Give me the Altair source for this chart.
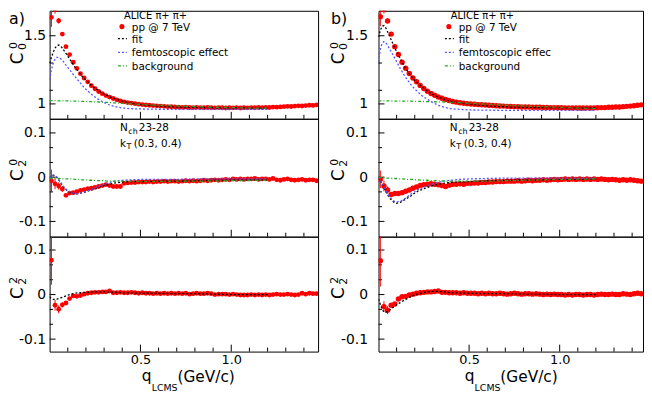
import altair as alt
import pandas as pd

# ---------------- data ----------------
q_bins = [0.01, 0.03, 0.05, 0.07, 0.09, 0.11, 0.13, 0.15, 0.17, 0.19,
          0.21, 0.23, 0.25, 0.27, 0.29, 0.31, 0.33, 0.35, 0.37, 0.39,
          0.41, 0.43, 0.45, 0.47, 0.49, 0.51, 0.53, 0.55, 0.57, 0.59,
          0.61, 0.63, 0.65, 0.67, 0.69, 0.71, 0.73, 0.75, 0.77, 0.79,
          0.81, 0.83, 0.85, 0.87, 0.89, 0.91, 0.93, 0.95, 0.97, 0.99,
          1.01, 1.03, 1.05, 1.07, 1.09, 1.11, 1.13, 1.15, 1.17, 1.19,
          1.21, 1.23, 1.25, 1.27, 1.29, 1.31, 1.33, 1.35, 1.37, 1.39,
          1.41, 1.43, 1.45, 1.47]

# panel a) data points
a_C00 = [1.635, 1.692, 1.610, 1.512, 1.420, 1.362, 1.306, 1.261, 1.222, 1.190,
         1.162, 1.134, 1.111, 1.091, 1.075, 1.061, 1.050, 1.040, 1.030, 1.022,
         1.015, 1.010, 1.006, 1.002, 0.998, 0.995, 0.992, 0.990, 0.988, 0.986,
         0.984, 0.982, 0.980, 0.979, 0.978, 0.976, 0.975, 0.976, 0.974, 0.973,
         0.975, 0.973, 0.972, 0.974, 0.972, 0.971, 0.973, 0.972, 0.970, 0.972,
         0.971, 0.973, 0.970, 0.972, 0.971, 0.973, 0.972, 0.974, 0.973, 0.975,
         0.974, 0.977, 0.976, 0.978, 0.980, 0.982, 0.981, 0.984, 0.986, 0.985,
         0.988, 0.990, 0.989, 0.993]
a_C00_err = [0.07, 0.03, 0.02]

a_C20 = [-0.008, -0.015, -0.020, -0.027, -0.041, -0.036, -0.035, -0.033, -0.030, -0.028,
         -0.026, -0.025, -0.023, -0.021, -0.019, -0.017, -0.019, -0.021, -0.021, -0.021,
         -0.014, -0.013, -0.012, -0.012, -0.011, -0.011, -0.011, -0.010, -0.011, -0.010,
         -0.010, -0.009, -0.010, -0.009, -0.009, -0.010, -0.009, -0.008, -0.009, -0.008,
         -0.009, -0.008, -0.007, -0.008, -0.007, -0.006, -0.007, -0.006, -0.005, -0.006,
         -0.004, -0.005, -0.004, -0.005, -0.004, -0.004, -0.003, -0.005, -0.004, -0.004,
         -0.005, -0.003, -0.006, -0.007, -0.005, -0.004, -0.006, -0.007, -0.006, -0.005,
         -0.007, -0.006, -0.006, -0.008]
a_C20_err = [0.025, 0.012, 0.008, 0.006]

a_C22 = [0.077, -0.024, -0.033, -0.023, -0.019, -0.009, -0.003, -0.004, -0.002, 0.001,
         0.003, 0.004, 0.005, 0.005, 0.006, 0.006, 0.008, 0.004, 0.004, 0.005,
         0.004, 0.004, 0.005, 0.004, 0.003, 0.004, 0.003, 0.003, 0.002, 0.003,
         0.002, 0.003, 0.002, 0.003, 0.002, 0.003, 0.002, 0.003, 0.001, 0.002,
         0.003, 0.002, 0.002, 0.003, 0.002, 0.000, 0.001, 0.001, 0.001, 0.000,
         0.001, 0.000, -0.001, -0.001, -0.001, 0.000, -0.001, 0.000, -0.001, 0.000,
         -0.001, 0.000, 0.001, 0.000, 0.000, 0.001, 0.000, -0.001, 0.000, 0.003,
         0.001, 0.003, 0.002, 0.002]
a_C22_err = [0.055, 0.012, 0.009, 0.006]

# panel b) data points
b_C00 = [1.640, 1.693, 1.609, 1.512, 1.420, 1.362, 1.306, 1.262, 1.223, 1.190,
         1.163, 1.136, 1.113, 1.093, 1.077, 1.063, 1.051, 1.041, 1.032, 1.025,
         1.018, 1.013, 1.009, 1.005, 1.002, 0.999, 0.997, 0.995, 0.994, 0.992,
         0.990, 0.988, 0.986, 0.985, 0.984, 0.982, 0.981, 0.980, 0.979, 0.978,
         0.977, 0.977, 0.976, 0.976, 0.975, 0.974, 0.974, 0.973, 0.973, 0.972,
         0.972, 0.971, 0.971, 0.970, 0.971, 0.970, 0.970, 0.971, 0.970, 0.971,
         0.972, 0.973, 0.973, 0.975, 0.976, 0.977, 0.978, 0.980, 0.982, 0.984,
         0.987, 0.990, 0.993]
b_C00_err = [0.07, 0.03, 0.02]

b_C20 = [-0.005, -0.020, -0.029, -0.039, -0.037, -0.037, -0.035, -0.032, -0.029, -0.025,
         -0.022, -0.019, -0.017, -0.016, -0.015, -0.016, -0.017, -0.019, -0.021, -0.018,
         -0.016, -0.016, -0.015, -0.016, -0.014, -0.014, -0.013, -0.013, -0.012, -0.012,
         -0.011, -0.011, -0.010, -0.010, -0.010, -0.009, -0.009, -0.009, -0.008, -0.009,
         -0.008, -0.007, -0.008, -0.007, -0.007, -0.006, -0.007, -0.006, -0.005, -0.006,
         -0.005, -0.004, -0.005, -0.004, -0.005, -0.004, -0.005, -0.004, -0.005, -0.004,
         -0.005, -0.004, -0.005, -0.006, -0.005, -0.006, -0.007, -0.006, -0.007, -0.006,
         -0.007, -0.008, -0.009]
b_C20_err = [0.02, 0.012, 0.008]

b_C22 = [0.076, -0.027, -0.035, -0.024, -0.021, -0.010, -0.005, -0.004, -0.001, 0.001,
         0.003, 0.004, 0.005, 0.006, 0.006, 0.007, 0.008, 0.005, 0.005, 0.004,
         0.004, 0.004, 0.003, 0.004, 0.003, 0.003, 0.003, 0.002, 0.003, 0.002,
         0.003, 0.002, 0.002, 0.003, 0.002, 0.001, 0.002, 0.003, 0.002, 0.001,
         0.002, 0.002, 0.001, 0.002, 0.001, 0.000, 0.001, 0.000, 0.001, 0.000,
         0.000, -0.001, 0.000, -0.001, 0.000, 0.000, -0.001, 0.000, 0.000, -0.001,
         0.000, 0.001, 0.000, 0.000, 0.001, 0.000, 0.000, 0.002, 0.001, 0.000,
         0.002, 0.003, 0.002]
b_C22_err = [0.058, 0.012, 0.009]

# model curves (common q grid)
curve_q = [0.00, 0.01, 0.02, 0.03, 0.04, 0.05, 0.06, 0.07, 0.08, 0.09,
           0.10, 0.12, 0.14, 0.16, 0.18, 0.20, 0.22, 0.24, 0.27, 0.30,
           0.33, 0.36, 0.40, 0.45, 0.50, 0.60, 0.70, 0.80, 0.90, 1.00,
           1.10, 1.20]

a_fit_C00 = [1.300, 1.340, 1.380, 1.410, 1.428, 1.432, 1.425, 1.410, 1.390, 1.370,
             1.350, 1.310, 1.270, 1.235, 1.200, 1.175, 1.150, 1.126, 1.097, 1.072,
             1.053, 1.038, 1.020, 1.005, 0.995, 0.983, 0.977, 0.974, 0.972, 0.971,
             0.970, 0.969]
a_femto_C00 = [1.175, 1.250, 1.300, 1.330, 1.342, 1.342, 1.333, 1.320, 1.303, 1.285,
               1.268, 1.233, 1.200, 1.168, 1.135, 1.107, 1.083, 1.060, 1.033, 1.010,
               0.992, 0.980, 0.970, 0.965, 0.963, 0.961, 0.960, 0.960, 0.960, 0.960,
               0.960, 0.960]
a_bg_C00 = [1.024, 1.024, 1.024, 1.024, 1.023, 1.023, 1.023, 1.023, 1.022, 1.022,
            1.022, 1.021, 1.021, 1.020, 1.019, 1.018, 1.017, 1.016, 1.014, 1.012,
            1.010, 1.007, 1.004, 1.000, 0.996, 0.990, 0.985, 0.980, 0.976, 0.973,
            0.970, 0.968]

a_fit_C20 = [-0.003, 0.001, 0.004, 0.003, -0.001, -0.006, -0.012, -0.018, -0.024, -0.028,
             -0.032, -0.036, -0.0375, -0.0375, -0.035, -0.033, -0.030, -0.028, -0.023, -0.019,
             -0.016, -0.013, -0.011, -0.010, -0.010, -0.009, -0.009, -0.008, -0.007, -0.006,
             -0.006, -0.006]
a_femto_C20 = [-0.002, 0.002, 0.005, 0.004, 0.000, -0.005, -0.011, -0.017, -0.023, -0.027,
               -0.031, -0.035, -0.037, -0.037, -0.035, -0.032, -0.029, -0.026, -0.021, -0.016,
               -0.012, -0.009, -0.007, -0.006, -0.005, -0.005, -0.005, -0.004, -0.004, -0.004,
               -0.004, -0.004]
a_bg_C20 = [-0.003, -0.003, -0.003, -0.003, -0.003, -0.003, -0.003, -0.004, -0.004, -0.004,
            -0.004, -0.004, -0.005, -0.005, -0.006, -0.006, -0.007, -0.007, -0.008, -0.008,
            -0.009, -0.009, -0.009, -0.0095, -0.0095, -0.0095, -0.009, -0.009, -0.0085, -0.008,
            -0.0075, -0.007]
a_fit_C22 = [-0.005, -0.009, -0.011, -0.011, -0.010, -0.009, -0.0075, -0.006, -0.0045, -0.003,
             -0.0015, 0.001, 0.003, 0.004, 0.0045, 0.005, 0.0055, 0.006, 0.006, 0.006,
             0.0055, 0.005, 0.004, 0.0035, 0.003, 0.003, 0.002, 0.002, 0.001, 0.000,
             0.000, 0.000]

b_fit_C00 = [1.490, 1.540, 1.570, 1.575, 1.558, 1.530, 1.500, 1.470, 1.440, 1.410,
             1.385, 1.333, 1.282, 1.240, 1.203, 1.172, 1.148, 1.125, 1.095, 1.068,
             1.050, 1.037, 1.020, 1.008, 0.998, 0.985, 0.978, 0.975, 0.973, 0.972,
             0.970, 0.970]
b_femto_C00 = [1.310, 1.400, 1.445, 1.457, 1.450, 1.430, 1.405, 1.383, 1.360, 1.335,
               1.310, 1.260, 1.215, 1.175, 1.140, 1.110, 1.085, 1.060, 1.033, 1.010,
               0.990, 0.976, 0.965, 0.960, 0.956, 0.954, 0.953, 0.952, 0.952, 0.952,
               0.952, 0.952]
b_bg_C00 = [1.022, 1.022, 1.022, 1.022, 1.022, 1.022, 1.022, 1.022, 1.021, 1.021,
            1.021, 1.021, 1.020, 1.020, 1.020, 1.019, 1.019, 1.018, 1.017, 1.016,
            1.015, 1.014, 1.012, 1.009, 1.005, 0.998, 0.991, 0.985, 0.980, 0.975,
            0.970, 0.966]

b_fit_C20 = [-0.001, -0.008, -0.015, -0.024, -0.032, -0.040, -0.046, -0.051, -0.055, -0.058,
             -0.059, -0.057, -0.052, -0.047, -0.042, -0.036, -0.031, -0.028, -0.023, -0.019,
             -0.016, -0.014, -0.012, -0.011, -0.010, -0.008, -0.007, -0.006, -0.006, -0.005,
             -0.005, -0.004]
b_femto_C20 = [0.000, -0.007, -0.014, -0.022, -0.030, -0.037, -0.043, -0.048, -0.052, -0.055,
               -0.056, -0.055, -0.050, -0.044, -0.038, -0.033, -0.028, -0.024, -0.019, -0.015,
               -0.012, -0.009, -0.007, -0.005, -0.004, -0.003, -0.002, -0.002, -0.002, -0.002,
               -0.002, -0.002]
b_bg_C20 = [-0.001, -0.001, -0.001, -0.002, -0.002, -0.002, -0.002, -0.003, -0.003, -0.003,
            -0.003, -0.004, -0.004, -0.005, -0.005, -0.006, -0.006, -0.007, -0.007, -0.008,
            -0.008, -0.009, -0.009, -0.009, -0.009, -0.009, -0.008, -0.007, -0.006, -0.005,
            -0.0045, -0.004]
b_fit_C22 = [-0.010, -0.022, -0.033, -0.039, -0.040, -0.038, -0.035, -0.032, -0.029, -0.026,
             -0.023, -0.018, -0.013, -0.009, -0.004, -0.001, 0.002, 0.004, 0.006, 0.007,
             0.007, 0.006, 0.004, 0.0035, 0.003, 0.002, 0.002, 0.001, 0.001, 0.000,
             0.000, 0.000]

# axis ticks
x_major_ticks = [0.5, 1.0]
x_minor_ticks = [0.1, 0.2, 0.3, 0.4, 0.6, 0.7, 0.8, 0.9, 1.1, 1.2, 1.3, 1.4]
y_major_C00 = [1.0, 1.5]
y_minor_C00 = [1.1, 1.3]
y_major_C2 = [-0.1, 0.0, 0.1]
y_minor_C2 = [-0.0667, -0.0333, 0.0333, 0.0667]

# ---------------- style ----------------
RED = "#ff0000"
BLACK = "#000000"
BLUE = "#5555ff"
GREEN = "#22aa22"
FONT = "DejaVu Sans"
DOT = [2, 2]
DASHDOT = [3, 2, 1, 2]

Y_LABEL_EXPR = "datum.value < 0 ? '-' + format(-datum.value, '~g') : format(datum.value, '~g')"


def txt(s, x, y, size, angle=0, align="left", baseline="alphabetic"):
    return alt.Chart(pd.DataFrame({"s": [s]})).mark_text(
        align=align, baseline=baseline, font=FONT, fontSize=size, angle=angle, color="black"
    ).encode(text="s:N", x=alt.value(x), y=alt.value(y))


def legend_dot(x, y):
    return alt.Chart(pd.DataFrame({"s": ["pp"]})).mark_circle(
        size=26, color=RED, opacity=1
    ).encode(x=alt.value(x), y=alt.value(y))


def legend_line(x1, x2, y, color, dash):
    return alt.Chart(pd.DataFrame({"s": ["l"]})).mark_rule(
        color=color, strokeDash=dash, strokeWidth=1.3
    ).encode(x=alt.value(x1), x2=alt.value(x2), y=alt.value(y))


def ylabel(sup, sub, cx, cy):
    return [txt("C", cx, cy, 17, angle=270, align="center", baseline="middle"),
            txt(sup, cx - 3.5, cy - 13, 11, angle=270, align="center", baseline="middle"),
            txt(sub, cx + 5.5, cy - 12, 11, angle=270, align="center", baseline="middle")]


def panel(width, height, xdom, ydom, vals, errs, curves, y_major, y_minor,
          show_x_labels, lab_pad, msize, extras):
    xs = alt.Scale(domain=xdom, nice=False, zero=False)
    ys = alt.Scale(domain=ydom, nice=False, zero=False)
    if show_x_labels:
        xaxis = alt.Axis(values=x_major_ticks, format=".1f", ticks=False, tickSize=0, domain=False,
                         grid=False, title=None, labelFont=FONT, labelFontSize=13,
                         labelColor="black", labelPadding=2)
    else:
        xaxis = None
    yaxis = alt.Axis(values=y_major, labelExpr=Y_LABEL_EXPR, ticks=False, tickSize=0, domain=False,
                     grid=False, title=None, labelFont=FONT, labelFontSize=14,
                     labelColor="black", labelPadding=lab_pad)

    def X(f):
        return alt.X(f, scale=xs, axis=xaxis)

    def Y(f):
        return alt.Y(f, scale=ys, axis=yaxis)

    layers = []
    # inward ticks
    layers.append(alt.Chart(pd.DataFrame({"t": y_major})).mark_rule(color=BLACK, strokeWidth=1)
                  .encode(y=Y("t:Q"), x=alt.value(0), x2=alt.value(6)))
    layers.append(alt.Chart(pd.DataFrame({"t": y_minor})).mark_rule(color=BLACK, strokeWidth=1)
                  .encode(y=Y("t:Q"), x=alt.value(0), x2=alt.value(3.5)))
    layers.append(alt.Chart(pd.DataFrame({"t": x_major_ticks})).mark_rule(color=BLACK, strokeWidth=1)
                  .encode(x=X("t:Q"), y=alt.value(height), y2=alt.value(height - 7)))
    layers.append(alt.Chart(pd.DataFrame({"t": x_minor_ticks})).mark_rule(color=BLACK, strokeWidth=1)
                  .encode(x=X("t:Q"), y=alt.value(height), y2=alt.value(height - 4)))
    # data
    n = len(vals)
    df = pd.DataFrame({"q": q_bins[:n], "v": vals})
    ne = len(errs)
    dfe = pd.DataFrame({"q": q_bins[:ne],
                        "lo": [v - e for v, e in zip(vals[:ne], errs)],
                        "hi": [v + e for v, e in zip(vals[:ne], errs)]})
    layers.append(alt.Chart(dfe).mark_rule(color=RED, strokeWidth=1, clip=True)
                  .encode(x=X("q:Q"), y=Y("lo:Q"), y2="hi:Q"))
    layers.append(alt.Chart(df).mark_circle(size=msize, color=RED, opacity=1, clip=True)
                  .encode(x=X("q:Q"), y=Y("v:Q")))
    for cv, color, dash in curves:
        dc = pd.DataFrame({"q": curve_q, "v": cv})
        layers.append(alt.Chart(dc).mark_line(color=color, strokeDash=dash, strokeWidth=1.3, clip=True)
                      .encode(x=X("q:Q"), y=Y("v:Q")))
    layers.extend(extras)
    return alt.layer(*layers).properties(width=width, height=height)


def legend_block(x0, femto_text):
    # x0 : left of legend text block (relative to panel)
    return [txt("ALICE  π+ π+", x0 - 7, 8.5, 10),
            legend_dot(x0 - 9, 16),
            txt("pp @ 7 TeV", x0 + 1, 20, 10.5),
            legend_line(x0 - 13, x0 - 4, 28, BLACK, DOT),
            txt("fit", x0 + 1, 32.5, 10.5),
            legend_line(x0 - 13, x0 - 4, 42, BLUE, DOT),
            txt(femto_text, x0 + 1, 46, 10.5),
            legend_line(x0 - 13, x0 - 4, 55.5, GREEN, DASHDOT),
            txt("background", x0 + 1, 59.5, 10.5)]


def nch_block(x0):
    return [txt("N", x0, 12.5, 10.5), txt("ch", x0 + 8.5, 15, 8), txt("23-28", x0 + 19, 12.5, 10.5),
            txt("k", x0, 28, 10.5), txt("T", x0 + 6.5, 31, 8), txt("(0.3, 0.4)", x0 + 14, 28, 10.5)]


def xtitle(x0):
    return [txt("q", x0, 146, 15.5), txt("LCMS", x0 + 10, 156, 9.5),
            txt("(GeV/c)", x0 + 36, 146.5, 15.5)]


WA, WB = 271, 267
HT, HM, HB = 109, 119, 116
XA = [0, 1.478]
XB = [0, 1.46]
YT = [0.891, 1.683]
YM = [-0.1345, 0.132]
YB = [-0.128, 0.130]
MS_A, MS_B = 24, 30

a_top = panel(WA, HT, XA, YT, a_C00, a_C00_err,
              [(a_fit_C00, BLACK, DOT), (a_femto_C00, BLUE, DOT), (a_bg_C00, GREEN, DASHDOT)],
              y_major_C00, y_minor_C00, False, 4, MS_A,
              [txt("a)", -41, 13.5, 16)] + ylabel("0", "0", -32, 48)
              + legend_block(82, "femtoscopic effect"))
a_mid = panel(WA, HM, XA, YM, a_C20, a_C20_err,
              [(a_fit_C20, BLACK, DOT), (a_femto_C20, BLUE, DOT), (a_bg_C20, GREEN, DASHDOT)],
              y_major_C2, y_minor_C2, False, 4, MS_A,
              ylabel("0", "2", -32, 57) + nch_block(71))
a_bot = panel(WA, HB, XA, YB, a_C22, a_C22_err,
              [(a_fit_C22, BLACK, DOT)],
              y_major_C2, y_minor_C2, True, 4, MS_A,
              ylabel("2", "2", -32, 57) + xtitle(93))

b_top = panel(WB, HT, XB, YT, b_C00, b_C00_err,
              [(b_fit_C00, BLACK, DOT), (b_femto_C00, BLUE, DOT), (b_bg_C00, GREEN, DASHDOT)],
              y_major_C00, y_minor_C00, False, 11, MS_B,
              [txt("b)", -48, 13.5, 16)] + ylabel("0", "0", -40, 48)
              + legend_block(80, "femtoscopic effec"))
b_mid = panel(WB, HM, XB, YM, b_C20, b_C20_err,
              [(b_fit_C20, BLACK, DOT), (b_femto_C20, BLUE, DOT), (b_bg_C20, GREEN, DASHDOT)],
              y_major_C2, y_minor_C2, False, 11, MS_B,
              ylabel("0", "2", -40, 57) + nch_block(72))
b_bot = panel(WB, HB, XB, YB, b_C22, b_C22_err,
              [(b_fit_C22, BLACK, DOT)],
              y_major_C2, y_minor_C2, True, 11, MS_B,
              ylabel("2", "2", -40, 57) + xtitle(87))

chart = alt.concat(a_top, b_top, a_mid, b_mid, a_bot, b_bot, columns=2,
                   spacing={"row": 0, "column": 61}, bounds="flush", align="each",
                   padding=0, background="white").configure_view(stroke="black", strokeWidth=1)

chart.save("out.html", embed_options={"renderer": "svg", "actions": False})
